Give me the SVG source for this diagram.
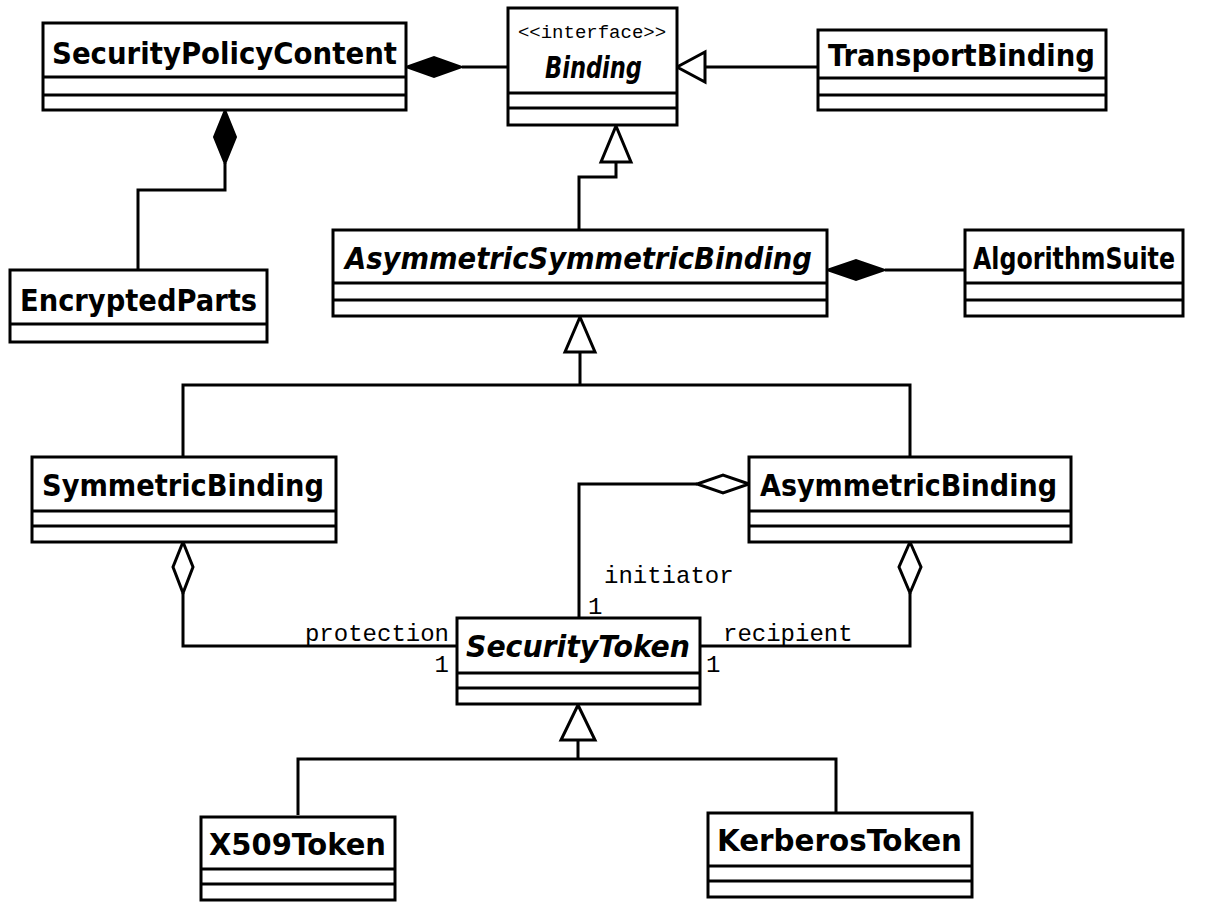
<svg xmlns="http://www.w3.org/2000/svg" width="1216" height="902" viewBox="0 0 1216 902">
<style>
.box{fill:#fff;stroke:#000;stroke-width:3}
.div{stroke:#000;stroke-width:3}
.t{font-family:"DejaVu Sans Condensed","DejaVu Sans",sans-serif;font-weight:bold;font-size:31px;fill:#000}
.ti{font-style:italic}
.m{font-family:"Liberation Mono","Courier New",monospace;font-size:24px;fill:#000}
.st{font-family:"Liberation Mono","Courier New",monospace;font-size:19px;fill:#000}
.ln{fill:none;stroke:#000;stroke-width:3}
.fd{fill:#000;stroke:#000;stroke-width:2}
.hd{fill:#fff;stroke:#000;stroke-width:3}
</style>
<g id="connectors">
  <path class="ln" d="M462,67 H508"/>
  <polygon class="fd" points="406,67 434,57 462,67 434,77"/>
  <path class="ln" d="M705,67 H818"/>
  <polygon class="hd" points="677,67 705,52 705,82"/>
  <path class="ln" d="M225,163 V190 H138 V270"/>
  <polygon class="fd" points="225,110 236,137 225,164 214,137"/>
  <path class="ln" d="M616,162 V177 H579 V230"/>
  <polygon class="hd" points="616,126 631,162 601,162"/>
  <path class="ln" d="M885,270 H965"/>
  <polygon class="fd" points="827,270 856,260 885,270 856,280"/>
  <path class="ln" d="M580,352 V385 M183,457 V385 H910 V457"/>
  <polygon class="hd" points="580,317 595,352 565,352"/>
  <path class="ln" d="M183,593 V646 H457"/>
  <polygon class="hd" points="183,542 193,567 183,593 173,567"/>
  <path class="ln" d="M697,484 H579 V618"/>
  <polygon class="hd" points="749,484 723,475 697,484 723,493"/>
  <path class="ln" d="M910,593 V646 H700"/>
  <polygon class="hd" points="910,542 921,567 910,593 899,567"/>
  <path class="ln" d="M578,740 V759 M298,815 V759 H836 V813"/>
  <polygon class="hd" points="578,705 595,740 561,740"/>
  <text class="m" x="449" y="641" text-anchor="end">protection</text>
  <text class="m" x="449" y="672" text-anchor="end">1</text>
  <text class="m" x="604" y="583">initiator</text>
  <text class="m" x="588" y="614">1</text>
  <text class="m" x="723" y="641">recipient</text>
  <text class="m" x="706" y="672">1</text>
</g>
<g id="SecurityPolicyContent">
  <rect class="box" x="43" y="23" width="363" height="87"/>
  <path class="div" d="M43,77 H406 M43,95 H406"/>
  <text class="t" x="52" y="64" textLength="345" lengthAdjust="spacingAndGlyphs">SecurityPolicyContent</text>
</g>
<g id="Binding">
  <rect class="box" x="508" y="8" width="169" height="117"/>
  <path class="div" d="M508,93 H677 M508,108 H677"/>
  <text class="st" x="592" y="38" text-anchor="middle">&lt;&lt;interface&gt;&gt;</text>
  <text class="t ti" x="545" y="78" textLength="97" lengthAdjust="spacingAndGlyphs">Binding</text>
</g>
<g id="TransportBinding">
  <rect class="box" x="818" y="30" width="288" height="80"/>
  <path class="div" d="M818,78 H1106 M818,95 H1106"/>
  <text class="t" x="828" y="66" textLength="267" lengthAdjust="spacingAndGlyphs">TransportBinding</text>
</g>
<g id="EncryptedParts">
  <rect class="box" x="10" y="270" width="257" height="72"/>
  <path class="div" d="M10,324 H267"/>
  <text class="t" x="20" y="311" textLength="237" lengthAdjust="spacingAndGlyphs">EncryptedParts</text>
</g>
<g id="AsymmetricSymmetricBinding">
  <rect class="box" x="333" y="230" width="494" height="86"/>
  <path class="div" d="M333,283 H827 M333,300 H827"/>
  <text class="t ti" x="345" y="269" textLength="467" lengthAdjust="spacingAndGlyphs">AsymmetricSymmetricBinding</text>
</g>
<g id="AlgorithmSuite">
  <rect class="box" x="965" y="230" width="218" height="86"/>
  <path class="div" d="M965,283 H1183 M965,300 H1183"/>
  <text class="t" x="973" y="269" textLength="202" lengthAdjust="spacingAndGlyphs">AlgorithmSuite</text>
</g>
<g id="SymmetricBinding">
  <rect class="box" x="32" y="457" width="304" height="85"/>
  <path class="div" d="M32,511 H336 M32,526 H336"/>
  <text class="t" x="42" y="496" textLength="282" lengthAdjust="spacingAndGlyphs">SymmetricBinding</text>
</g>
<g id="AsymmetricBinding">
  <rect class="box" x="749" y="457" width="322" height="85"/>
  <path class="div" d="M749,511 H1071 M749,526 H1071"/>
  <text class="t" x="760" y="496" textLength="297" lengthAdjust="spacingAndGlyphs">AsymmetricBinding</text>
</g>
<g id="SecurityToken">
  <rect class="box" x="457" y="618" width="243" height="86"/>
  <path class="div" d="M457,673 H700 M457,688 H700"/>
  <text class="t ti" x="466" y="657" textLength="224" lengthAdjust="spacingAndGlyphs">SecurityToken</text>
</g>
<g id="X509Token">
  <rect class="box" x="201" y="817" width="194" height="83"/>
  <path class="div" d="M201,869 H395 M201,884 H395"/>
  <text class="t" x="209" y="855" textLength="177" lengthAdjust="spacingAndGlyphs">X509Token</text>
</g>
<g id="KerberosToken">
  <rect class="box" x="708" y="813" width="264" height="84"/>
  <path class="div" d="M708,866 H972 M708,881 H972"/>
  <text class="t" x="717" y="851" textLength="245" lengthAdjust="spacingAndGlyphs">KerberosToken</text>
</g>
</svg>
